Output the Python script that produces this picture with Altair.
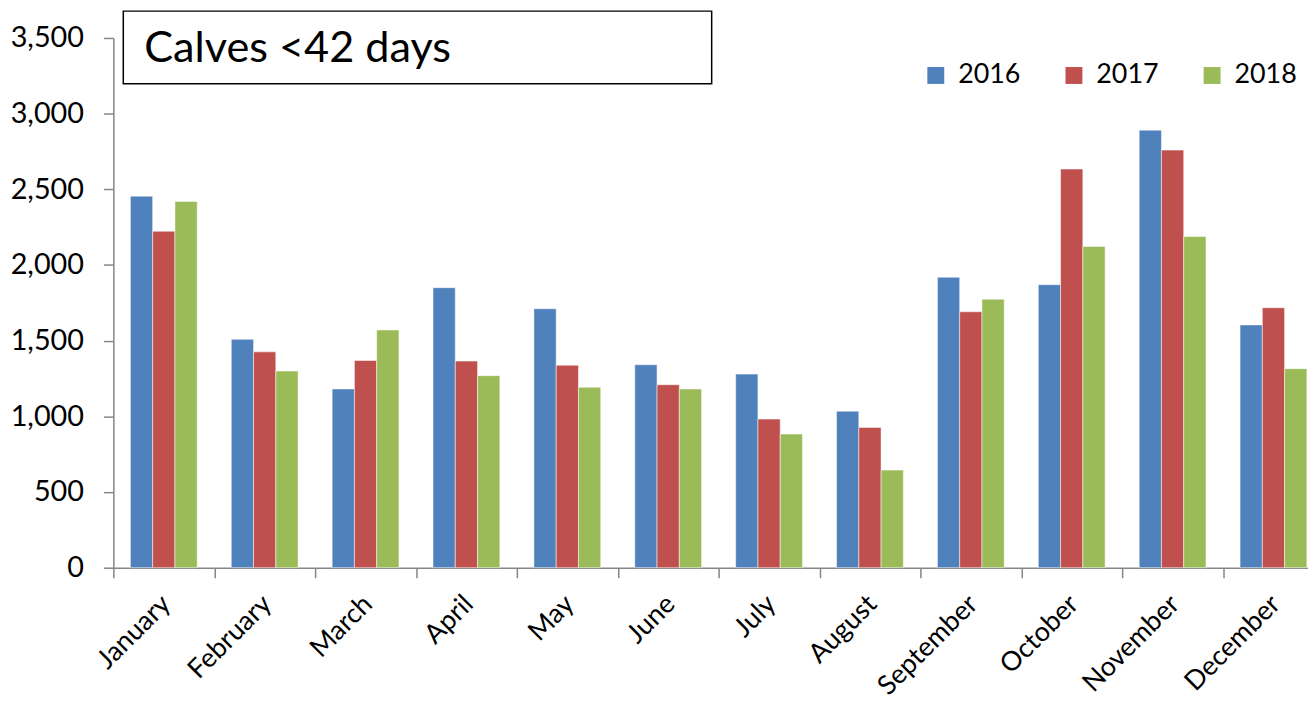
import altair as alt
import pandas as pd

months = ["January", "February", "March", "April", "May", "June", "July",
          "August", "September", "October", "November", "December"]
years = ["2016", "2017", "2018"]
v2016 = [2455, 1509, 1181, 1850, 1711, 1341, 1279, 1034, 1919, 1870, 2891, 1604]
v2017 = [2223, 1426, 1369, 1365, 1338, 1209, 982, 927, 1691, 2634, 2759, 1718]
v2018 = [2420, 1299, 1571, 1269, 1192, 1181, 883, 645, 1774, 2122, 2188, 1315]
colors = ["#4F81BD", "#C0504D", "#9BBB59"]
title_text = "Calves <42 days"
y_ticks = [0, 500, 1000, 1500, 2000, 2500, 3000, 3500]

rows = []
for yr, vals in zip(years, [v2016, v2017, v2018]):
    for m, v in zip(months, vals):
        rows.append({"Month": m, "Year": yr, "Value": v})
df = pd.DataFrame(rows)

FONT = "Lato"

bars = alt.Chart(df).mark_bar(stroke="white", strokeWidth=1, strokeOpacity=0.5).encode(
    x=alt.X("Month:N", sort=months,
            scale=alt.Scale(range=[0, 1218], paddingInner=0, paddingOuter=0),
            axis=alt.Axis(title=None, labelAngle=-45, labelAlign="right", labelBaseline="top",
                          labelFontSize=27, labelFont=FONT, labelColor="black",
                          tickBand="extent", tickSize=10, tickColor="#868686", tickWidth=1.5,
                          domainColor="#868686", domainWidth=1.5, labelPadding=13,
                          labelOffset=-7, labelOverlap=False)),
    xOffset=alt.XOffset("Year:N", sort=years,
                        scale=alt.Scale(paddingOuter=0.765, paddingInner=0)),
    y=alt.Y("Value:Q", scale=alt.Scale(domain=[0, 3500], nice=False),
            axis=alt.Axis(title=None, values=y_ticks, format=",d", grid=False,
                          labelFontSize=29, labelFont=FONT, labelColor="black",
                          tickSize=10, tickColor="#868686", tickWidth=1.5,
                          domainColor="#868686", domainWidth=1.5, labelPadding=20)),
    color=alt.Color("Year:N", sort=years,
                    scale=alt.Scale(domain=years, range=colors),
                    legend=alt.Legend(title=None, orient="none", legendX=814, legendY=24,
                                      direction="horizontal", symbolType="square",
                                      symbolSize=289, symbolStrokeWidth=0,
                                      labelFontSize=27, labelFont=FONT, labelColor="black",
                                      labelOffset=9, columnPadding=40)),
)

tdf = pd.DataFrame({"t": [title_text]})
box = alt.Chart(tdf).mark_rect(fill="white", stroke="black", strokeWidth=1.5).encode(
    x=alt.value(10), x2=alt.value(602), y=alt.value(-27), y2=alt.value(46)
)
txt = alt.Chart(tdf).mark_text(align="left", baseline="alphabetic", fontSize=43.5,
                               font=FONT, color="black").encode(
    x=alt.value(31), y=alt.value(24), text="t:N"
)

chart = alt.layer(bars, box, txt).properties(
    width=1202, height=533,
    autosize=alt.AutoSizeParams(type="none"),
    padding={"left": 106, "top": 28, "right": 0, "bottom": 136},
).configure_view(stroke=None)

chart.save("out.html", embed_options={"renderer": "svg", "actions": False})
